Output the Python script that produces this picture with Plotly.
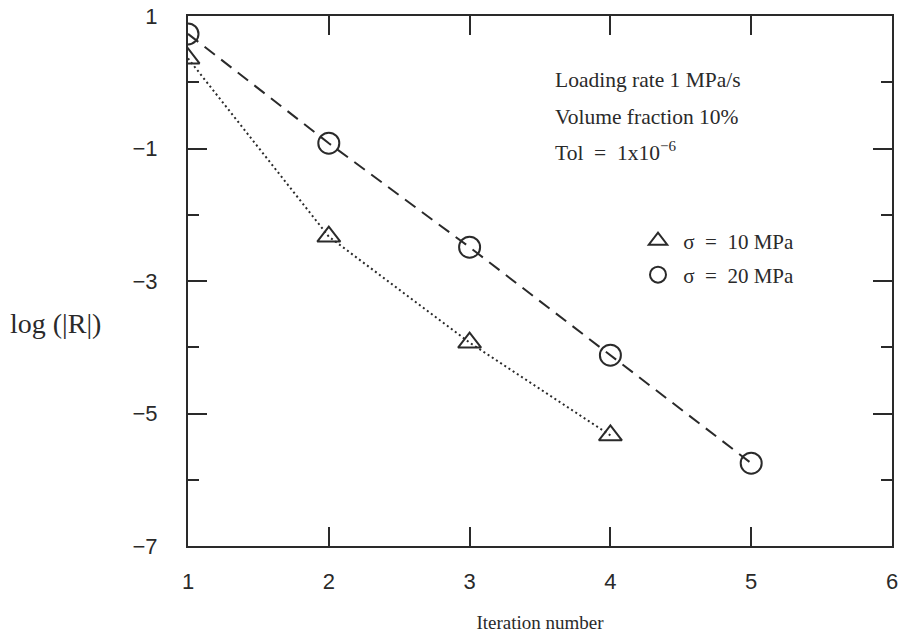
import plotly.graph_objects as go

# Convergence history: log of residual norm per iteration
iters_10 = [1, 2, 3, 4]
log_r_10 = [0.36, -2.33, -3.93, -5.33]

iters_20 = [1, 2, 3, 4, 5]
log_r_20 = [0.73, -0.92, -2.49, -4.12, -5.75]

label_10 = "\u00a0σ\u00a0 = \u00a010 MPa"
label_20 = "\u00a0σ\u00a0 = \u00a020 MPa"

x_ticks = [1, 2, 3, 4, 5, 6]
y_ticks = [1, -1, -3, -5, -7]

serif = "Liberation Serif"
sans = "Liberation Sans"
ink = "#2a2a2a"

fig = go.Figure()

# data curves
fig.add_trace(go.Scatter(
    x=iters_10, y=log_r_10, mode="lines+markers", showlegend=False,
    line=dict(color=ink, width=2, dash="2px,3px"),
    marker=dict(symbol="triangle-up-open", size=20, color=ink, line=dict(width=2, color=ink)),
))
fig.add_trace(go.Scatter(
    x=iters_20, y=log_r_20, mode="lines+markers", showlegend=False,
    line=dict(color=ink, width=2, dash="13px,8px"),
    marker=dict(symbol="circle-open", size=21, color=ink, line=dict(width=2, color=ink)),
))

# legend entries (markers only)
fig.add_trace(go.Scatter(
    x=[None], y=[None], mode="markers", name=label_10, legend="legend",
    marker=dict(symbol="triangle-up-open", size=16, color=ink, line=dict(width=2, color=ink)),
))
fig.add_trace(go.Scatter(
    x=[None], y=[None], mode="markers", name=label_20, legend="legend2",
    marker=dict(symbol="circle-open", size=16, color=ink, line=dict(width=2, color=ink)),
))

axis_common = dict(
    showline=True, linecolor=ink, linewidth=2, mirror="allticks",
    ticks="inside", tickcolor=ink, tickwidth=2, ticklen=19,
    showgrid=False, zeroline=False, automargin=False,
    tickfont=dict(family=sans, size=22, color=ink),
)

fig.update_xaxes(
    range=[1, 6], tickvals=x_ticks, ticktext=[str(v) for v in x_ticks],
    ticklabelstandoff=15,
    title=dict(text="Iteration number", font=dict(family=serif, size=19, color=ink), standoff=22),
    **axis_common,
)
fig.update_yaxes(
    range=[-7, 1], tickvals=y_ticks,
    minor=dict(tickvals=[0, -2, -4, -6], ticklen=11, tickwidth=2, tickcolor=ink, ticks="inside"),
    ticklabelstandoff=24,
    **axis_common,
)

# text block in the upper right
notes = [
    ("Loading rate 1 MPa/s", 80),
    ("Volume fraction 10%", 117),
    ("Tol\u00a0\u00a0=\u00a0\u00a01x10<sup>\u22126</sup>", 152),
]
plot_top, plot_h = 16, 530
for txt, ypx in notes:
    fig.add_annotation(
        text=txt, xref="paper", yref="paper",
        x=(553 - 188) / 704, y=1 - (ypx - plot_top) / plot_h,
        xanchor="left", yanchor="middle", showarrow=False,
        font=dict(family=serif, size=21.5, color=ink),
    )

# y-axis caption placed to the left of the tick labels
fig.add_annotation(
    text="log (|R|)", xref="paper", yref="paper",
    x=(8 - 188) / 704, y=1 - (323 - plot_top) / plot_h,
    xanchor="left", yanchor="middle", showarrow=False,
    font=dict(family=serif, size=28, color=ink),
)

legend_style = dict(
    font=dict(family=serif, size=21, color=ink), bgcolor="rgba(0,0,0,0)",
    borderwidth=0, xanchor="left", yanchor="middle", itemsizing="trace",
)
fig.update_layout(
    width=904, height=637,
    margin=dict(l=188, r=12, t=16, b=91),
    paper_bgcolor="white", plot_bgcolor="white",
    legend=dict(x=(638 - 188) / 704, y=1 - (241 - plot_top) / plot_h, **legend_style),
    legend2=dict(x=(638 - 188) / 704, y=1 - (275 - plot_top) / plot_h, **legend_style),
)

fig.write_html("out.html")
